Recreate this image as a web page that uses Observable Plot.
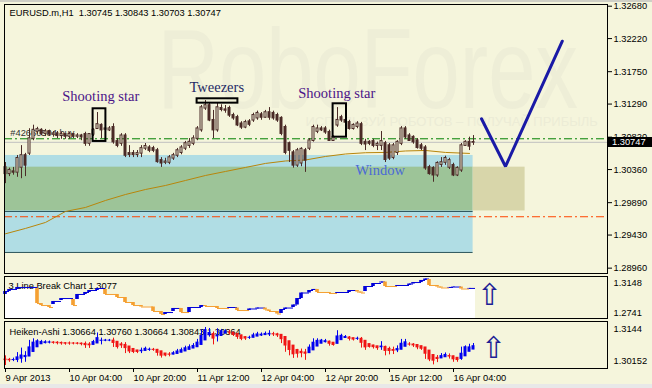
<!DOCTYPE html>
<html>
<head>
<meta charset="utf-8">
<script src="https://cdn.jsdelivr.net/npm/d3@7"></script>
<script src="https://cdn.jsdelivr.net/npm/@observablehq/plot@0.6"></script>
<style>
  html, body { margin: 0; padding: 0; background: #f5f5dc; }
  #chart { position: relative; width: 652px; height: 388px; overflow: hidden; background: #f5f5dc; }
  #chart svg { position: absolute; left: 0; }
  #topband { position: absolute; left: 0; top: 0; width: 652px; height: 2px; background: #cfcfc6; }
  #botband { position: absolute; left: 0; top: 384px; width: 652px; height: 4px; background: #e8e8e8; }
</style>
</head>
<body>
<div id="chart"><div id="topband"></div><div id="botband"></div></div>
<script>
// ---------------- DATA ----------------
const symbolLabel = "EURUSD.m,H1  1.30745 1.30843 1.30703 1.30747";
const orderLabel = "#42660504 buy";
const lineBreakTitle = "3 Line Break Chart 1.3077";
const heikenTitle = "Heiken-Ashi 1.30664 1.30760 1.30664 1.30843 1.30664";
const watermarkText = "RoboForex";
const sloganText = "ИСПОЛЬЗУЙ РОБОТОВ – ПОЛУЧАЙ ПРИБЫЛЬ";

// H1 candles, bar 0 = 9 Apr 2013 12:00
const barOpen = [
  1.3039,1.3030,1.3033,1.3032,1.3039,1.3056,1.3059,1.3080,1.3090,1.3092,
  1.3087,1.3090,1.3086,1.3087,1.3084,1.3086,1.3083,1.3086,1.3083,1.3084,
  1.3086,1.3073,1.3086,1.3094,1.3099,1.3093,1.3092,1.3096,1.3076,1.3073,
  1.3084,1.3059,1.3059,1.3057,1.3059,1.3066,1.3067,1.3066,1.3063,1.3049,
  1.3046,1.3046,1.3052,1.3056,1.3060,1.3066,1.3070,1.3073,1.3080,1.3092,
  1.3123,1.3127,1.3106,1.3092,1.3123,1.3121,1.3123,1.3113,1.3110,1.3101,
  1.3096,1.3104,1.3106,1.3109,1.3114,1.3110,1.3117,1.3116,1.3113,1.3109,
  1.3096,1.3073,1.3060,1.3042,1.3045,1.3063,1.3066,1.3077,1.3090,1.3094,
  1.3094,1.3089,1.3077,1.3099,1.3110,1.3106,1.3103,1.3094,1.3097,1.3100,
  1.3075,1.3075,1.3076,1.3070,1.3070,1.3073,1.3070,1.3053,1.3060,1.3073,
  1.3094,1.3084,1.3082,1.3077,1.3070,1.3067,1.3039,1.3038,1.3028,1.3043,
  1.3046,1.3039,1.3042,1.3028,1.3035,1.3070,1.3075,1.30745];
const barHigh = [
  1.3046,1.3038,1.3039,1.3056,1.3070,1.3059,1.3094,1.3099,1.3096,1.3094,
  1.3093,1.3092,1.3090,1.3090,1.3089,1.3087,1.3089,1.3087,1.3087,1.3086,
  1.3089,1.3087,1.3094,1.3117,1.3101,1.3097,1.3097,1.3101,1.3080,1.3087,
  1.3087,1.3070,1.3063,1.3063,1.3070,1.3073,1.3070,1.3069,1.3066,1.3053,
  1.3052,1.3056,1.3059,1.3066,1.3070,1.3076,1.3080,1.3084,1.3097,1.3127,
  1.3134,1.3131,1.3120,1.3130,1.3128,1.3127,1.3126,1.3116,1.3113,1.3104,
  1.3106,1.3107,1.3116,1.3119,1.3117,1.3120,1.3124,1.3119,1.3116,1.3111,
  1.3099,1.3075,1.3063,1.3066,1.3067,1.3066,1.3080,1.3099,1.3099,1.3097,
  1.3097,1.3092,1.3084,1.3124,1.3113,1.3109,1.3106,1.3101,1.3104,1.3103,
  1.3079,1.3077,1.3079,1.3075,1.3090,1.3076,1.3073,1.3073,1.3077,1.3097,
  1.3097,1.3087,1.3084,1.3080,1.3073,1.3070,1.3042,1.3040,1.3047,1.3053,
  1.3055,1.3052,1.3045,1.3040,1.3073,1.3077,1.3082,1.30843];
const barLow = [
  1.3016,1.3026,1.3028,1.3025,1.3023,1.3026,1.3056,1.3077,1.3086,1.3084,
  1.3083,1.3083,1.3082,1.3080,1.3079,1.3079,1.3079,1.3080,1.3080,1.3077,
  1.3069,1.3069,1.3083,1.3093,1.3080,1.3090,1.3090,1.3072,1.3067,1.3069,
  1.3053,1.3053,1.3053,1.3053,1.3053,1.3063,1.3060,1.3060,1.3045,1.3039,
  1.3043,1.3043,1.3049,1.3053,1.3057,1.3063,1.3066,1.3070,1.3077,1.3089,
  1.3120,1.3104,1.3080,1.3089,1.3118,1.3116,1.3110,1.3106,1.3097,1.3093,
  1.3094,1.3097,1.3103,1.3106,1.3106,1.3109,1.3106,1.3106,1.3103,1.3084,
  1.3057,1.3046,1.3038,1.3039,1.3040,1.3032,1.3063,1.3075,1.3087,1.3090,
  1.3086,1.3076,1.3076,1.3096,1.3103,1.3100,1.3092,1.3092,1.3094,1.3070,
  1.3063,1.3070,1.3067,1.3063,1.3063,1.3046,1.3049,1.3050,1.3056,1.3070,
  1.3079,1.3076,1.3072,1.3065,1.3063,1.3035,1.3028,1.3018,1.3025,1.3039,
  1.3042,1.3036,1.3026,1.3026,1.3032,1.3069,1.3063,1.30703];
const barClose = [
  1.3030,1.3035,1.3032,1.3052,1.3056,1.3042,1.3080,1.3092,1.3093,1.3087,
  1.3090,1.3086,1.3087,1.3084,1.3086,1.3083,1.3086,1.3083,1.3084,1.3082,
  1.3073,1.3086,1.3092,1.3100,1.3092,1.3094,1.3094,1.3075,1.3070,1.3084,
  1.3056,1.3057,1.3057,1.3059,1.3066,1.3069,1.3063,1.3063,1.3047,1.3045,
  1.3047,1.3053,1.3056,1.3063,1.3067,1.3073,1.3075,1.3080,1.3094,1.3124,
  1.3127,1.3106,1.3092,1.3124,1.3121,1.3120,1.3113,1.3109,1.3099,1.3096,
  1.3103,1.3100,1.3113,1.3116,1.3110,1.3117,1.3110,1.3109,1.3106,1.3087,
  1.3060,1.3063,1.3042,1.3063,1.3065,1.3049,1.3077,1.3096,1.3094,1.3092,
  1.3089,1.3077,1.3082,1.3106,1.3106,1.3103,1.3094,1.3099,1.3101,1.3073,
  1.3072,1.3073,1.3070,1.3072,1.3076,1.3050,1.3052,1.3070,1.3075,1.3094,
  1.3082,1.3077,1.3075,1.3067,1.3066,1.3038,1.3030,1.3028,1.3045,1.3046,
  1.3052,1.3049,1.3028,1.3038,1.3070,1.3075,1.3069,1.30747];

// moving average (read at sample bars)
const maBars = [0,5,10,15,20,25,30,35,40,45,50,55,60,65,70,75,80,85,90,95,100,105,110,116];
const maValues = [1.29448,1.29524,1.29609,1.29765,1.29822,1.29921,1.30006,1.30077,1.30134,1.30205,1.30276,1.30333,
                  1.30390,1.30447,1.30482,1.30496,1.30546,1.30581,1.30599,1.30603,1.30624,1.30631,1.30603,1.30589];

// forecast polyline
const forecastBars = [119, 125, 139.2];
const forecastPrices = [1.31081, 1.30404, 1.32183];

// horizontal levels
const bidLevel = 1.30747;
const bidLabel = "1.30747";
const entryLevel = 1.30797;
const stopLevel = 1.29690;

// zones
const zoneKind = ["range", "window", "target"];
const zoneStart = [-0.25, -0.25, 116.9];
const zoneEnd = [116.9, 116.9, 129.9];
const zoneTop = [1.30560, 1.30394, 1.30394];
const zoneBottom = [1.29183, 1.29772, 1.29772];
const zoneEdgePrice = [1.29765, 1.29183];

// candlestick pattern boxes
const boxStart = [21.9, 47.9, 81.9];
const boxEnd = [25.1, 58.1, 85.25];
const boxHigh = [1.31223, 1.31365, 1.31294];
const boxLow = [1.30759, 1.31303, 1.30820];

// pattern notes
const noteText = ["Shooting star", "Tweezers", "Shooting star", "Window"];
const noteBar = [14.2, 46.0, 73.2, 87.5];
const notePrice = [1.31398, 1.31526, 1.31440, 1.30347];

// price axis ticks
const priceTicks = [1.32680, 1.32220, 1.31750, 1.31290, 1.30820, 1.30360, 1.29890, 1.29430, 1.28960];

// 3 Line Break bricks
const lbBar = [0,1,3,8,9,11,12,14,17,18,20,21,23,25,28,30,32,34,37,39,40,42,44,46,49,50,53,56,58,61,63,65,66,68,69,70,72,73,74,76,77,78,81,83,86,88,89,90,92,94,95,98,101,102,104,105,106,108,109,111,112,114,116];
const lbFrom = [1.2995,1.3035,1.3063,1.3076,1.2872,1.2845,1.2859,1.2913,1.2927,1.2927,1.2995,1.3022,1.3049,1.3063,1.2995,1.2954,1.2886,1.2845,1.2825,1.2764,1.2723,1.2764,1.2805,1.2750,1.2818,1.2845,1.2832,1.2805,1.2811,1.2777,1.2798,1.2811,1.2784,1.2764,1.2737,1.2791,1.2818,1.2852,1.2940,1.3015,1.3049,1.3063,1.3022,1.3008,1.3022,1.3049,1.3028,1.3035,1.3103,1.3151,1.3164,1.3103,1.3117,1.3137,1.3157,1.3185,1.3198,1.3117,1.3096,1.3083,1.3090,1.3096,1.3069];
const lbTo = [1.3035,1.3063,1.3090,1.2872,1.2845,1.2818,1.2900,1.2940,1.2845,1.2995,1.3022,1.3049,1.3076,1.2995,1.2954,1.2886,1.2845,1.2825,1.2764,1.2723,1.2750,1.2805,1.2750,1.2818,1.2845,1.2832,1.2805,1.2818,1.2777,1.2798,1.2811,1.2784,1.2764,1.2730,1.2791,1.2811,1.2852,1.2940,1.3015,1.3049,1.3063,1.3022,1.3008,1.3022,1.3049,1.3028,1.3015,1.3103,1.3144,1.3164,1.3103,1.3117,1.3137,1.3157,1.3185,1.3205,1.3117,1.3096,1.3083,1.3090,1.3096,1.3069,1.3077];
const lbTicks = [1.3148, 1.2741];
const haScaleLabels = ["1.3144", "1.30152"];

// signal arrows
const signalBar = [121, 122];
const lbSignalValue = 1.2981;
const haSignalValue = 1.30688;

// time axis
const timeTickBars = [0, 16, 32, 48, 64, 80, 96, 112];
const timeTickLabels = ["9 Apr 2013", "10 Apr 04:00", "10 Apr 20:00", "11 Apr 12:00", "12 Apr 04:00", "12 Apr 20:00", "15 Apr 12:00", "16 Apr 04:00"];

// ---------------- STYLE ----------------
const FONT = "'Liberation Sans', Arial, sans-serif";
const SERIF = "'Liberation Serif', 'Times New Roman', serif";
const BG = "#f5f5dc";
const CANDLE = "#4b2b27";
const LB_UP = "#0000d8", LB_DN = "#f5a032";
const HA_UP = "#0000f0", HA_DN = "#f01414";
const zoneColor = {range: "#b0dde4", window: "#9dc498", target: "#d8d6aa"};
const noteColor = {"Shooting star": "#4b1488", "Tweezers": "#1f2a66", "Window": "#4a6ad6"};
const xDomain = [-0.25, 150.5];
const svgStyle = {background: "transparent", fontFamily: FONT, fontSize: "9.3px", color: "black", overflow: "visible"};

// ---------------- TABLES ----------------
const bars = barOpen.map((o, i) => ({i, o, h: barHigh[i], l: barLow[i], c: barClose[i]}));
const lastBar = bars.length - 1;
const ma = maBars.map((b, k) => ({b, v: maValues[k]}));
const forecast = forecastBars.map((b, k) => ({b, v: forecastPrices[k]}));
const zones = zoneKind.map((k, j) => ({k, x1: zoneStart[j], x2: zoneEnd[j], y1: zoneBottom[j], y2: zoneTop[j]}));
const zoneEdges = zoneEdgePrice.map(v => ({v, x1: zoneStart[0], x2: zoneEnd[0]}));
const boxes = boxStart.map((s, j) => ({x1: s, x2: boxEnd[j], y1: boxLow[j], y2: boxHigh[j]}));
const notes = noteText.map((t, j) => ({t, x: noteBar[j], y: notePrice[j]}));

const bricks = lbBar.map((b, k) => ({b, from: lbFrom[k], to: lbTo[k], col: lbTo[k] >= lbFrom[k] ? LB_UP : LB_DN}));
const lbSteps = [{x: xDomain[0], v: lbFrom[0]}]
  .concat(bricks.map(d => ({x: d.b - 0.45, v: d.to})))
  .concat([{x: lastBar + 0.5, v: lbTo[lbTo.length - 1]}]);
const lbSegs = bricks.map((d, k) => ({x1: d.b, x2: k < bricks.length - 1 ? bricks[k + 1].b : lastBar + 0.5, v: d.to, col: d.col}));

// Heiken-Ashi from the candles
const haBars = [];
bars.forEach((d, i) => {
  const c = (d.o + d.h + d.l + d.c) / 4;
  const o = i === 0 ? (d.o + d.c) / 2 : (haBars[i - 1].o + haBars[i - 1].c) / 2;
  haBars.push({i, o, c, h: Math.max(d.h, o, c), l: Math.min(d.l, o, c), col: c >= o ? HA_UP : HA_DN});
});

// ---------------- MAIN CHART ----------------
const main = Plot.plot({
  width: 652, height: 274, marginLeft: 4, marginRight: 45, marginTop: 4, marginBottom: 1,
  x: {domain: xDomain, axis: null},
  y: {domain: [1.28884, 1.32704], axis: null},
  color: {type: "identity"},
  style: svgStyle,
  marks: [
    Plot.text([watermarkText], {text: d => d, frameAnchor: "top-left", dx: 153, dy: 103, lineAnchor: "bottom", textAnchor: "start", fontSize: 85, fill: "#eeeed7", fontFamily: FONT}),
    Plot.text([sloganText], {text: d => d, frameAnchor: "top-left", dx: 301, dy: 121, lineAnchor: "bottom", textAnchor: "start", fontSize: 13, fill: "#ececd6", fontFamily: FONT}),
    Plot.rect(zones, {x1: "x1", x2: "x2", y1: "y1", y2: "y2", fill: d => zoneColor[d.k]}),
    Plot.ruleY(zoneEdges, {y: "v", x1: "x1", x2: "x2", stroke: "#29535b", strokeWidth: 1}),
    Plot.ruleY([bidLevel], {stroke: "#c0c0c0"}),
    Plot.ruleY([entryLevel], {stroke: "#008000", strokeDasharray: "8,3,2,3"}),
    Plot.ruleY([stopLevel], {stroke: "#ff4500", strokeDasharray: "8,3,2,3"}),
    Plot.text([orderLabel], {text: d => d, x: 1.2, y: 1.3088, textAnchor: "start", lineAnchor: "middle", fill: "#303030", fontSize: 9.3}),
    Plot.line(ma, {x: "b", y: "v", stroke: "#b8860b", strokeWidth: 1}),
    Plot.ruleX(bars, {x: "i", y1: "l", y2: "h", stroke: CANDLE}),
    Plot.rect(bars, {x1: d => d.i - 0.25, x2: d => d.i + 0.25, y1: "o", y2: "c", fill: d => d.c >= d.o ? BG : CANDLE, stroke: CANDLE, insetTop: -0.3, insetBottom: -0.3}),
    Plot.rect(boxes, {x1: "x1", x2: "x2", y1: "y1", y2: "y2", fill: "none", stroke: "black", strokeWidth: 2}),
    Plot.text(notes, {x: "x", y: "y", text: "t", textAnchor: "start", lineAnchor: "middle", fontFamily: SERIF, fontSize: 14.5, fill: d => noteColor[d.t]}),
    Plot.line(forecast, {x: "b", y: "v", stroke: "#1a1aa6", strokeWidth: 3, strokeLinejoin: "miter"}),
    Plot.text([symbolLabel], {text: d => d, frameAnchor: "top-left", dx: 5, dy: 5, lineAnchor: "top", textAnchor: "start", fill: "black"}),
    Plot.frame({stroke: "black"}),
    Plot.axisY(priceTicks, {anchor: "right", label: null, tickSize: 4, tickPadding: 2, tickFormat: d3.format(".5f"), fontSize: 9.3})
  ]
});
main.style.top = "0px";
// price tag + watermark stretch
{
  const yTag = Math.round(main.scale("y").apply(bidLevel));
  const s = d3.select(main);
  s.append("rect").attr("x", 608).attr("y", yTag - 5).attr("width", 44).attr("height", 10).attr("fill", "black");
  s.append("text").attr("x", 612).attr("y", yTag).attr("dy", "0.34em").attr("fill", "white")
    .attr("text-anchor", "start").attr("font-size", "9.3px").attr("font-family", FONT).text(bidLabel);
  main.querySelectorAll("text").forEach(t => {
    if (t.textContent === watermarkText) {
      const tr = t.getAttribute("transform") || "";
      t.setAttribute("transform", tr + " scale(1,1.34)");
    }
  });
}

// ---------------- 3 LINE BREAK ----------------
const lb = Plot.plot({
  width: 652, height: 44, marginLeft: 4, marginRight: 45, marginTop: 1, marginBottom: 1,
  x: {domain: xDomain, axis: null},
  y: {domain: [1.2669, 1.3239], axis: null},
  color: {type: "identity"},
  style: svgStyle,
  marks: [
    Plot.areaY(lbSteps, {x: "x", y1: 1.2669, y2: "v", curve: "step-after", fill: "white"}),
    Plot.text([lineBreakTitle], {text: d => d, frameAnchor: "top-left", dx: 4, dy: 6, lineAnchor: "top", textAnchor: "start", fill: "black"}),
    Plot.ruleY(lbSegs, {y: "v", x1: "x1", x2: "x2", stroke: "col", strokeWidth: 1}),
    Plot.rect(bricks, {x1: d => d.b - 0.45, x2: d => d.b + 0.45, y1: "from", y2: "to", fill: "col"}),
    Plot.text(["⇧"], {text: d => d, x: signalBar[0], y: lbSignalValue, fontFamily: "DejaVu Sans", fontSize: 30, fill: "#1e1e96", lineAnchor: "middle"}),
    Plot.frame({stroke: "black"}),
    Plot.axisY(lbTicks, {anchor: "right", label: null, tickSize: 0, tickPadding: 6, tickFormat: d => String(d), fontSize: 9.3})
  ]
});
lb.style.top = "275px";

// ---------------- HEIKEN-ASHI ----------------
const ha = Plot.plot({
  width: 652, height: 67, marginLeft: 4, marginRight: 45, marginTop: 0, marginBottom: 20,
  x: {domain: xDomain, axis: null},
  y: {domain: [1.30067, 1.31526], axis: null},
  color: {type: "identity"},
  style: svgStyle,
  marks: [
    Plot.text([heikenTitle], {text: d => d, frameAnchor: "top-left", dx: 5, dy: 7, lineAnchor: "top", textAnchor: "start", fill: "black"}),
    Plot.ruleX(haBars, {x: "i", y1: "l", y2: "h", stroke: "col"}),
    Plot.rect(haBars, {x1: d => d.i - 0.375, x2: d => d.i + 0.375, y1: "o", y2: "c", fill: "col", insetTop: -0.5, insetBottom: -0.5}),
    Plot.text(["⇧"], {text: d => d, x: signalBar[1], y: haSignalValue, fontFamily: "DejaVu Sans", fontSize: 30, fill: "#1e1e96", lineAnchor: "middle"}),
    Plot.frame({stroke: "black"}),
    Plot.text([haScaleLabels[0]], {text: d => d, frameAnchor: "top-right", dx: 6, dy: 8, textAnchor: "start", lineAnchor: "middle", fill: "black"}),
    Plot.text([haScaleLabels[1]], {text: d => d, frameAnchor: "bottom-right", dx: 6, dy: -7, textAnchor: "start", lineAnchor: "middle", fill: "black"}),
    Plot.axisX(timeTickBars, {anchor: "bottom", label: null, tickSize: 4, tickPadding: 2, textAnchor: "start", fontSize: 9.3,
      tickFormat: d => timeTickLabels[timeTickBars.indexOf(d)]})
  ]
});
ha.style.top = "321px";

const chart = document.getElementById("chart");
chart.appendChild(main);
chart.appendChild(lb);
chart.appendChild(ha);
</script>
</body>
</html>
